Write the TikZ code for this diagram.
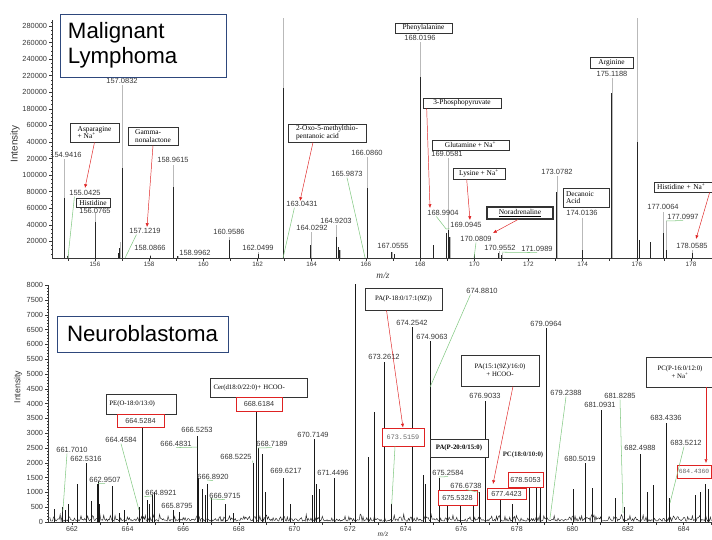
\documentclass[tikz,border=0pt]{standalone}
\usepackage{fontspec}
\setmainfont{Liberation Sans}
\newfontfamily\tnr{Liberation Serif}
\newfontfamily\cour{Liberation Mono}
\usetikzlibrary{arrows.meta,calc,positioning}
\definecolor{navy}{RGB}{46,72,124}
\definecolor{leaf}{RGB}{130,200,130}
\definecolor{annred}{RGB}{222,34,34}
\definecolor{ink}{RGB}{55,55,55}

\tikzset{
  pklab/.style={font=\fontsize{6.4}{7}\selectfont, text=ink, inner sep=0.6pt},
  ylab/.style={font=\fontsize{6.3}{7}\selectfont, text=ink, inner sep=0pt},
  xlab/.style={font=\fontsize{5.4}{6}\selectfont, text=ink, inner sep=0pt},
  axisline/.style={draw=ink, line width=0.5pt},
  annbox/.style={draw=black!80, fill=white, line width=0.55pt, font=\tnr\fontsize{6.3}{6.6}\selectfont, inner sep=1pt, align=left},
  annlow/.style={annbox, font=\tnr\fontsize{5.8}{6.8}\selectfont, align=center},
  redbox/.style={draw=annred, fill=white, line width=0.8pt, font=\fontsize{6.2}{7}\selectfont, text=ink, inner sep=0pt},
  redarrow/.style={draw=annred, line width=0.4pt, -{Latex[length=3.2pt,width=2.8pt]}},
  leader/.style={draw=leaf, line width=0.45pt},
  titlebox/.style={draw=navy, fill=white, line width=0.8pt, font=\fontsize{19}{21}\selectfont, inner sep=0pt},
  topspec/.style={shift={(95,258)}, x=0.8127cm, y=0.24855cm},
  botspec/.style={shift={(72,522)}, x=0.834cm, y=0.888cm},
}

\begin{document}
\begin{tikzpicture}[x=0.03cm, y=-0.03cm]
\useasboundingbox (0,0) rectangle (712,539);

% ---------- top spectrum: m/z 154--179, intensity in 10^4 ----------
\begin{scope}[topspec]
  \foreach \m/\a/\b in {154.87/11.95/7.24, 155.0/0.5/0.3, 156.0/5.43/4.35, 156.85/0.6/0.6,
      156.92/1.9/1.2, 157.0/20.9/10.9, 158.03/0.4/0.3, 158.9/11.2/8.6, 159.06/0.3/0.2,
      160.95/2.5/2.2, 162.02/0.7/0.5, 162.94/29.0/20.5, 163.97/3.1/1.6, 164.9/4.0/2.5,
      164.97/1.3/1.3, 165.04/1.0/1.0, 166.04/12.2/8.4, 166.96/0.7/0.7, 167.04/0.5/0.5,
      168.0/26.1/21.8, 168.48/1.6/1.6, 168.96/3.0/3.0, 169.03/12.1/3.4, 169.1/2.5/2.5,
      169.99/0.5/0.5, 170.91/0.8/0.6, 171.02/0.6/0.4, 173.05/9.9/8.0, 173.98/4.8/1.0,
      175.08/21.7/19.9, 176.01/29.0/14.0, 176.08/2.2/2.2, 176.49/1.9/1.9, 176.97/5.6/3.0,
      177.08/4.5/1.0, 178.04/1.0/0.6}{
    \draw[gray!55, line width=0.5pt] ({\m-156},0) -- ({\m-156},\a);
    \draw[black!85, line width=0.8pt] ({\m-156},0) -- ({\m-156},\b);
  }
  \draw[axisline] (-1.587,28.7) -- (-1.587,0) -- (22.8,0);
  \foreach \i in {1,...,57} \draw[axisline] (-1.587,\i/2) -- ++(-1.2pt,0pt);
  \foreach \v/\t in {28/280000,26/260000,24/240000,22/220000,20/200000,18/180000,
      16/60000,14/40000,12/20000,10/100000,8/80000,6/60000,4/40000,2/20000}{
    \draw[axisline] (-1.587,\v) -- ++(-2.6pt,0pt);
    \node[ylab, left=4pt] at (-1.587,\v) {\t};
  }
  \foreach \i in {-7,...,113} \draw[axisline] (\i/5,0) -- ++(0pt,-1.2pt);
  \foreach \i in {-1,...,22} \draw[axisline] (\i,0) -- ++(0pt,-2.6pt);
  \foreach \i in {156,158,...,178} \node[xlab, below=3.5pt] at ({\i-156},0) {\i};
  % peak feet for the leaders
  \coordinate (p155) at (-1.0,0);
  \coordinate (p157) at ({157.11-156},0);
  \coordinate (p163) at ({162.94-156},0);
  \coordinate (p166) at ({165.97-156},0);
  \coordinate (p169) at ({168.96-156},3.5);
  \coordinate (p170) at ({169.99-156},0);
  \coordinate (p171) at ({171.02-156},0.7);
  \coordinate (p177) at ({177.08-156},4.47);
\end{scope}

\node[font=\fontsize{8.5}{9}\selectfont, text=ink, rotate=90] (yTop) at (15,144) {Intensity};
\node[font=\tnr\itshape\fontsize{8}{9}\selectfont, text=ink] (mzTop) at (383,275) {m/z};

% peak labels
\node[pklab] (l154) at (66,155) {154.9416};
\node[pklab] (l155) at (85,193) {155.0425};
\node[pklab] (l156) at (95,211) {156.0765};
\node[pklab] (l157a) at (122,81) {157.0832};
\node[pklab] (l157b) at (145,231) {157.1219};
\node[pklab] (l158a) at (150,248) {158.0866};
\node[pklab] (l158b) at (173,160) {158.9615};
\node[pklab] (l158c) at (195,253) {158.9962};
\node[pklab] (l160) at (229,232) {160.9586};
\node[pklab] (l162) at (258,248) {162.0499};
\node[pklab] (l163) at (302,204) {163.0431};
\node[pklab] (l164a) at (312,228) {164.0292};
\node[pklab] (l164b) at (336,221) {164.9203};
\node[pklab] (l165) at (347,174) {165.9873};
\node[pklab] (l166) at (367,153) {166.0860};
\node[pklab] (l167) at (393,246) {167.0555};
\node[pklab] (l168a) at (420,38) {168.0196};
\node[pklab] (l168b) at (443,213) {168.9904};
\node[pklab] (l169a) at (447,154) {169.0581};
\node[pklab] (l169b) at (466,225) {169.0945};
\node[pklab] (l170a) at (476,239) {170.0809};
\node[pklab] (l170b) at (500,248) {170.9552};
\node[pklab] (l171) at (537,249) {171.0989};
\node[pklab] (l173) at (557,172) {173.0782};
\node[pklab] (l174) at (582,213) {174.0136};
\node[pklab] (l175) at (612,74) {175.1188};
\node[pklab] (l177a) at (663,207) {177.0064};
\node[pklab] (l177b) at (683,217) {177.0997};
\node[pklab] (l178) at (692,246) {178.0585};

% compound boxes
\node[titlebox, minimum width=4.98cm, minimum height=1.89cm, text width=4.5cm, align=left] (tML) at (143,45.5) {Malignant\\Lymphoma};
\node[annbox, minimum width=1.47cm, minimum height=0.57cm] (asn) at (94.5,132.5) {Asparagine\\+ Na\textsuperscript{+}};
\node[annbox, minimum width=1.5cm, minimum height=0.54cm] (gnl) at (153,136) {Gamma-\\nonalactone};
\node[annbox, minimum width=1.02cm, minimum height=0.27cm, inner sep=0.3pt] (his) at (93,202.5) {Histidine};
\node[annbox, minimum width=2.34cm, minimum height=0.54cm] (oxo) at (327,133) {2-Oxo-5-methylthio-\\pentanoic acid};
\node[annbox, minimum width=1.71cm, minimum height=0.3cm, inner sep=0.3pt] (phe) at (423.5,28) {Phenylalanine};
\node[annbox, minimum width=2.34cm, minimum height=0.3cm, inner sep=0.3pt] (ppy) at (462,103) {3-Phosphopyruvate};
\node[annbox, minimum width=2.31cm, minimum height=0.3cm, inner sep=0.3pt] (gln) at (470.5,145) {Glutamine + Na\textsuperscript{+}};
\node[annbox, minimum width=1.56cm, minimum height=0.33cm, inner sep=0.3pt] (lys) at (479,173.5) {Lysine + Na\textsuperscript{+}};
\node[annbox, line width=0.9pt, minimum width=1.98cm, minimum height=0.36cm, inner sep=0.3pt] (nor) at (520,213) {\underline{Noradrenaline}};
\node[annbox, minimum width=1.38cm, minimum height=0.57cm, text width=1.2cm] (dec) at (586,197.5) {Decanoic\\Acid};
\node[annbox, minimum width=1.29cm, minimum height=0.33cm, inner sep=0.3pt] (arg) at (611.5,62.5) {Arginine};
\node[annbox, minimum width=2.04cm, minimum height=0.3cm, text width=1.85cm, inner sep=0.3pt] (hna) at (688,187) {Histidine + Na\textsuperscript{+}};

% red arrows to the assigned peaks
\coordinate (t155) at (85,188);
\coordinate (t157) at (147,227);
\coordinate (t163) at (300,201);
\coordinate (t168) at (430,208);
\coordinate (t169) at (470,220);
\coordinate (t170) at (493,233);
\coordinate (t178) at (696,239);
\draw[redarrow] (asn.south) -- (t155);
\draw[redarrow] (gnl.south) -- (t157);
\draw[redarrow] ($(oxo.south)+(-14,0)$) -- (t163);
\draw[redarrow] ($(ppy.south west)+(4,0)$) -- (t168);
\draw[redarrow] ($(lys.south west)+(14,0)$) -- (t169);
\draw[redarrow] ($(nor.south)+(-2,0)$) -- (t170);
\draw[redarrow] ($(hna.south west)+(56,0)$) -- (t178);

% green leaders
\draw[leader] ($(l155.south west)+(6,0)$) -- (p155);
\draw[leader] ($(l157b.south west)+(8,0)$) -- (p157);
\draw[leader] ($(l163.south west)+(9,0)$) -- (p163);
\draw[leader] (l165.south) -- (p166);
\draw[leader] ($(l168b.south west)+(10,0)$) -- (p169) -- (l169b.south west);
\draw[leader] (l170a.south) -- (p170);
\draw[leader] (p171) -- (l171.south);
\draw[leader] (p177) -- (l177b.south);

% ---------- bottom spectrum: m/z 661--685, intensity in 10^3 ----------
\begin{scope}[botspec]
  \pgfmathsetseed{12}
  \draw[black!85, line width=0.4pt] plot[domain=-0.8:23.0, samples=700] (\x,{0.03+0.25*rnd*rnd});
  \foreach \m/\h in {661.35/0.45, 661.64/0.5, 661.75/0.4, 661.86/0.6, 662.18/1.3, 662.5/2.0,
      662.68/0.7, 662.9/1.3, 662.94/1.35, 663.0/0.6, 663.44/1.2, 663.7/0.3, 663.87/0.4,
      664.41/0.5, 664.53/3.2, 664.7/0.75, 664.8/0.6, 664.88/0.9, 664.95/1.0, 665.63/0.4,
      665.85/0.35, 666.5/2.9, 666.55/1.5, 666.68/1.1, 666.78/0.9, 666.86/1.3, 667.0/0.8,
      667.5/0.6, 667.79/0.3, 668.51/2.0, 668.62/3.7, 668.69/2.5, 668.83/2.3, 668.94/1.0,
      669.6/1.5, 669.85/0.6, 670.63/0.9, 670.71/2.8, 670.8/1.3, 670.9/1.1, 671.42/1.5,
      672.2/8.05, 672.65/2.2, 672.87/3.7, 673.22/5.4, 673.5/0.6, 674.23/6.6, 674.63/1.6,
      674.7/1.3, 674.88/6.1, 675.2/1.5, 675.5/0.6, 675.96/0.8, 676.42/0.6, 676.64/1.0,
      676.86/4.1, 677.4/1.0, 677.83/0.6, 678.44/1.4, 678.69/1.4, 678.83/1.2, 679.05/6.55,
      680.02/1.1, 680.45/2.0, 680.7/1.15, 681.03/3.8, 681.53/0.8, 681.86/0.5, 682.43/2.3,
      682.68/1.0, 682.9/1.25, 683.37/3.35, 683.5/0.8, 684.41/0.9, 684.59/1.0, 684.77/1.3,
      684.88/1.1}
    \draw[black!90, line width=0.6pt] ({\m-662},0) -- ({\m-662},\h);
  \draw[axisline] (-0.863,8.0) -- (-0.863,0) -- (23.02,0);
  \foreach \i in {1,...,80} \draw[axisline] (-0.863,\i/10) -- ++(-1.2pt,0pt);
  \foreach \v in {0,500,...,8000}{
    \draw[axisline] (-0.863,\v/1000) -- ++(-2.6pt,0pt);
    \node[ylab, left=4pt] at (-0.863,\v/1000) {\v};
  }
  \foreach \i in {-4,...,115} \draw[axisline] (\i/5,0) -- ++(0pt,-1.2pt);
  \foreach \i in {0,...,23} \draw[axisline] (\i,0) -- ++(0pt,-2.6pt);
  \foreach \i in {662,664,...,684} \node[xlab, font=\fontsize{6}{7}\selectfont, below=3.5pt] at ({\i-662},0) {\i};
  % peak spots for the leaders
  \coordinate (q661) at (-0.33,0.35);
  \coordinate (q662) at ({662.94-662},1.3);
  \coordinate (q664a) at ({664.41-662},0.4);
  \coordinate (q664b) at ({664.88-662},0.88);
  \coordinate (q666a) at ({666.5-662},2.53);
  \coordinate (q666c) at ({666.86-662},1.42);
  \coordinate (q666d) at ({666.95-662},0.78);
  \coordinate (q668a) at ({668.51-662},2.0);
  \coordinate (q668b) at ({668.69-662},2.5);
  \coordinate (q673) at ({673.5-662},0.6);
  \coordinate (q674) at ({674.88-662},4.56);
  \coordinate (q675) at ({675.2-662},1.52);
  \coordinate (q676) at ({676.64-662},1.0);
  \coordinate (q679) at ({679.19-662},0.1);
  \coordinate (q681) at ({681.82-662},0.3);
  \coordinate (q683) at ({683.51-662},0.64);
\end{scope}

\node[font=\fontsize{7.5}{8}\selectfont, text=ink, rotate=90] (yBot) at (18,387) {Intensity};
\node[font=\tnr\itshape\fontsize{6.5}{7}\selectfont, text=ink, inner sep=0pt] (mzBot) at (383,534) {m/z};

% peak labels
\node[pklab] (b661) at (72,450) {661.7010};
\node[pklab] (b662a) at (86,459) {662.5316};
\node[pklab] (b662b) at (105,480) {662.9507};
\node[pklab] (b664a) at (121,440) {664.4584};
\node[pklab] (b664b) at (161,493) {664.8921};
\node[pklab] (b665) at (177,506) {665.8795};
\node[pklab] (b666a) at (176,444) {666.4831};
\node[pklab] (b666b) at (197,430) {666.5253};
\node[pklab] (b666c) at (213,477) {666.8920};
\node[pklab] (b666d) at (225,496) {666.9715};
\node[pklab] (b668a) at (236,457) {668.5225};
\node[pklab] (b668b) at (272,444) {668.7189};
\node[pklab] (b669) at (286,471) {669.6217};
\node[pklab] (b670) at (313,435) {670.7149};
\node[pklab] (b671) at (333,473) {671.4496};
\node[pklab] (b673) at (384,357) {673.2612};
\node[pklab] (b674a) at (412,323) {674.2542};
\node[pklab] (b674b) at (432,337) {674.9063};
\node[pklab] (b674c) at (482,291) {674.8810};
\node[pklab] (b675) at (448,473) {675.2584};
\node[pklab] (b676a) at (466,486) {676.6738};
\node[pklab] (b676b) at (485,396) {676.9033};
\node[pklab] (b679a) at (546,324) {679.0964};
\node[pklab] (b679b) at (566,393) {679.2388};
\node[pklab] (b680) at (580,459) {680.5019};
\node[pklab] (b681a) at (600,405) {681.0931};
\node[pklab] (b681b) at (620,396) {681.8285};
\node[pklab] (b682) at (640,448) {682.4988};
\node[pklab] (b683a) at (666,418) {683.4336};
\node[pklab] (b683b) at (686,443) {683.5212};

% lipid boxes
\node[titlebox, minimum width=5.13cm, minimum height=1.08cm] (tNB) at (142.5,334) {Neuroblastoma};
\node[annlow, minimum width=2.1cm, minimum height=0.6cm, text width=1.9cm, align=left] (pe) at (141,404) {PE(O-18:0/13:0)};
\node[redbox, minimum width=1.41cm, minimum height=0.39cm] (r664) at (140.5,420.5) {664.5284};
\node[annlow, minimum width=2.91cm, minimum height=0.57cm, text width=2.7cm, align=left] (cer) at (258.5,387.5) {Cer(d18:0/22:0)+ HCOO-};
\node[redbox, minimum width=1.38cm, minimum height=0.42cm] (r668) at (259,404) {668.6184};
\node[annlow, minimum width=2.31cm, minimum height=0.66cm] (pa18) at (403.5,299) {PA(P-18:0/17:1(9Z))};
\node[redbox, minimum width=1.26cm, minimum height=0.54cm, font=\cour\fontsize{5.8}{6}\selectfont, text=black!60] (r673) at (403,437) {673.5159};
\node[annlow, minimum width=1.74cm, minimum height=0.54cm, font=\tnr\bfseries\fontsize{5.8}{6.8}\selectfont] (pa20) at (459,448) {PA(P-20:0/15:0)};
\node[redbox, minimum width=1.17cm, minimum height=0.45cm] (r675) at (457.5,497.5) {675.5328};
\node[annlow, minimum width=2.34cm, minimum height=0.93cm] (pa15) at (500,370.5) {PA(15:1(9Z)/16:0)\\+ HCOO-};
\node[redbox, minimum width=1.17cm, minimum height=0.33cm] (r677) at (506.5,493.5) {677.4423};
\node[font=\tnr\bfseries\fontsize{5.8}{6.8}\selectfont, text=black!85] (pc18) at (523,455) {PC(18:0/10:0)};
\node[redbox, minimum width=1.05cm, minimum height=0.45cm] (r678) at (525.5,479.5) {678.5053};
\node[annlow, minimum width=2.04cm, minimum height=0.9cm] (pc16) at (680,372) {PC(P-16:0/12:0)\\+ Na\textsuperscript{+}};
\node[redbox, minimum width=1.02cm, minimum height=0.39cm, font=\cour\fontsize{5.4}{6}\selectfont, text=black!60] (r684) at (694,471.5) {684.4360};

% red arrows
\coordinate (t677) at (493,484);
\coordinate (t684) at (706,463);
\draw[redarrow] ($(pa18.south)+(-17,0)$) -- (r673.north);
\draw[redarrow] ($(pa15.south)+(13,0)$) -- (t677);
\draw[redarrow] ($(pc16.south)+(26,0)$) -- (t684);

% green leaders
\draw[leader] ($(b661.south)+(-5,0)$) -- (q661);
\draw[leader] (q662) -- (b662b.south);
\draw[leader] (b664a.south) -- (q664a);
\draw[leader] (q664b) -- (b664b.south west);
\draw[leader] (b666a.south) -- (q666a);
\draw[leader] (q666c) -- (b666c.south);
\draw[leader] (q666d) -- (b666d.south);
\draw[leader] (b668a.south east) -- (q668a);
\draw[leader] (q668b) -- (b668b.south);
\draw[leader] ($(r673.south)+(-8,0)$) -- (q673);
\draw[leader] ($(b674c.south west)+(5,0)$) -- (q674);
\draw[leader] (q675) -- (b675.south);
\draw[leader] (b676a.south) -- (q676);
\draw[leader] (b679b.south) -- (q679);
\draw[leader] (b681b.south) -- (q681);
\draw[leader] ($(b683b.south)+(-2,0)$) -- (q683);
\end{tikzpicture}
\end{document}
